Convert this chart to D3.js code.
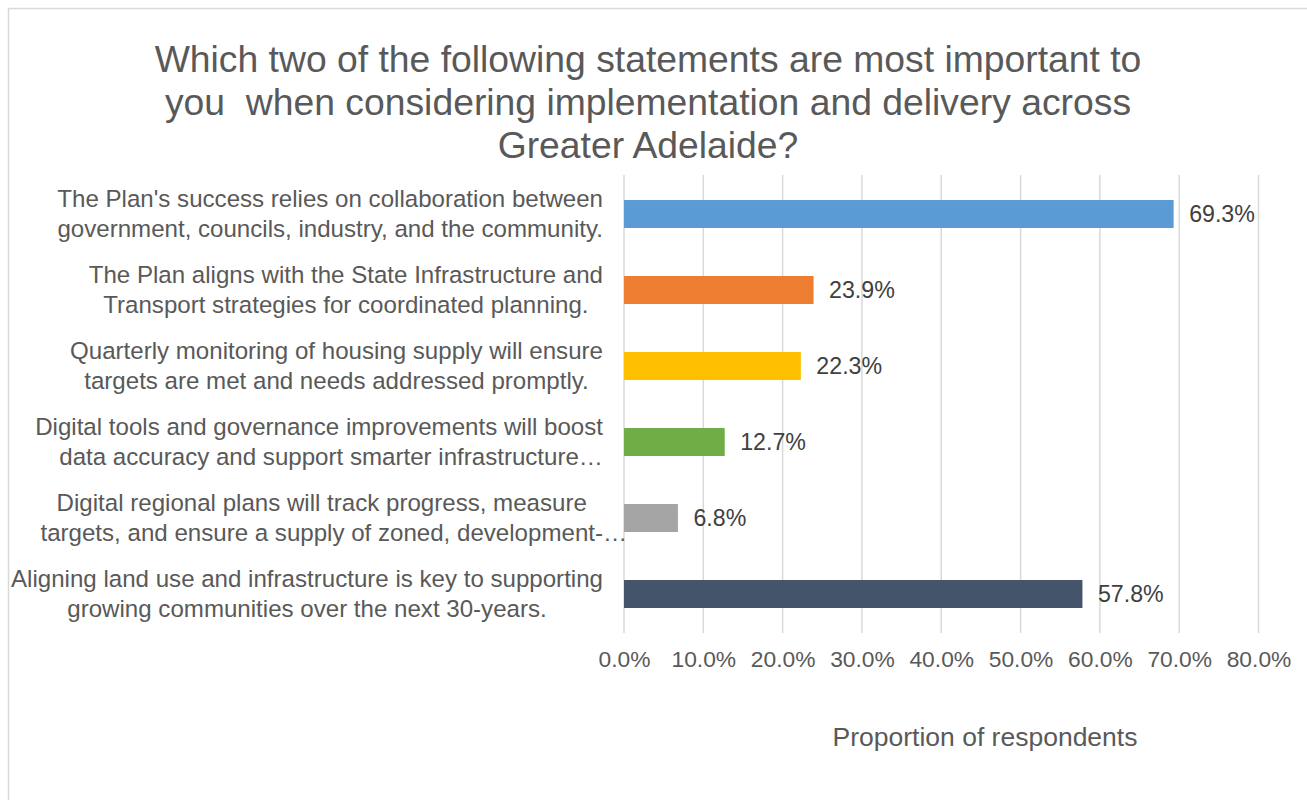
<!DOCTYPE html>
<html>
<head>
<meta charset="utf-8">
<script src="https://cdn.jsdelivr.net/npm/d3@7"></script>
<style>
  html, body { margin: 0; padding: 0; background: #ffffff; }
  svg { display: block; font-family: "Liberation Sans", Arial, sans-serif; }
  text { white-space: pre; }
</style>
</head>
<body>
<svg id="chart" width="1307" height="800"></svg>
<script>
// Survey responses: share of respondents choosing each statement
const titleLines = [
  "Which two of the following statements are most important to",
  "you  when considering implementation and delivery across",
  "Greater Adelaide?"
];
const categories = [
  ["The Plan's success relies on collaboration between", "government, councils, industry, and the community."],
  ["The Plan aligns with the State Infrastructure and", "Transport strategies for coordinated planning."],
  ["Quarterly monitoring of housing supply will ensure", "targets are met and needs addressed promptly."],
  ["Digital tools and governance improvements will boost", "data accuracy and support smarter infrastructure\u2026"],
  ["Digital regional plans will track progress, measure", "targets, and ensure a supply of zoned, development-\u2026"],
  ["Aligning land use and infrastructure is key to supporting", "growing communities over the next 30-years."]
];
const values = [69.3, 23.9, 22.3, 12.7, 6.8, 57.8];
const barColors = ["#5B9BD5", "#ED7D31", "#FFC000", "#70AD47", "#A5A5A5", "#44546A"];
const tickValues = [0, 10, 20, 30, 40, 50, 60, 70, 80];
const axisTitle = "Proportion of respondents";

const textColor = "#595959";
const gridColor = "#D9D9D9";

const svg = d3.select("#chart");

// outer chart frame
svg.append("rect")
  .attr("x", 8.5).attr("y", 8.5)
  .attr("width", 1320).attr("height", 820)
  .attr("fill", "#ffffff")
  .attr("stroke", "#D9D9D9")
  .attr("stroke-width", 1.5);

// title
svg.append("g").selectAll("text")
  .data(titleLines)
  .join("text")
  .attr("x", 648)
  .attr("y", (d, i) => 72 + i * 43)
  .attr("text-anchor", "middle")
  .attr("fill", textColor)
  .style("font-size", "37.3px")
  .text(d => d);

// plot area
const plot = { left: 624, right: 1258.5, top: 176, bottom: 632 };

const x = d3.scaleLinear()
  .domain([0, 80])
  .range([plot.left, plot.right]);

const y = d3.scaleBand()
  .domain(d3.range(categories.length))
  .range([plot.top, plot.bottom])
  .paddingInner(0.632)
  .paddingOuter(0.316);

// vertical gridlines
svg.append("g").selectAll("line")
  .data(tickValues)
  .join("line")
  .attr("x1", d => x(d)).attr("x2", d => x(d))
  .attr("y1", 175).attr("y2", 633)
  .attr("stroke", gridColor)
  .attr("stroke-width", 1.5);

// value axis labels
const xAxis = d3.axisBottom(x)
  .tickValues(tickValues)
  .tickSize(0)
  .tickPadding(0)
  .tickFormat(d => d3.format(".1f")(d) + "%");

const axisG = svg.append("g")
  .attr("transform", "translate(0,651)")
  .call(xAxis);
axisG.select(".domain").remove();
axisG.selectAll("text")
  .attr("fill", textColor)
  .attr("dy", "0.71em")
  .style("font-size", "22.8px")
  .style("font-family", "'Liberation Sans', Arial, sans-serif");

// bars
svg.append("g").selectAll("rect")
  .data(values)
  .join("rect")
  .attr("x", x(0))
  .attr("y", (d, i) => y(i))
  .attr("width", d => x(d) - x(0))
  .attr("height", y.bandwidth())
  .attr("fill", (d, i) => barColors[i]);

// data labels
svg.append("g").selectAll("text")
  .data(values)
  .join("text")
  .attr("x", d => x(d) + 15.5)
  .attr("y", (d, i) => y(i) + y.bandwidth() / 2)
  .attr("dy", "0.35em")
  .attr("fill", "#404040")
  .style("font-size", "23.2px")
  .text(d => d3.format(".1f")(d) + "%");

// category labels: each two-line block sits right against the axis,
// lines centred within the block; a trailing ellipsis hangs past the centre line
const labelRight = 603;
const labelG = svg.append("g").style("font-size", "24.1px").attr("fill", textColor);
categories.forEach((lines, i) => {
  const cy = y(i) + y.bandwidth() / 2;
  const measure = s => {
    const t = labelG.append("text").text(s);
    const w = t.node().getComputedTextLength();
    t.remove();
    return w;
  };
  const bare = lines.map(s => s.replace(/\u2026$/, ""));
  const widths = bare.map(measure);
  const blockW = d3.max(widths);
  const cx = labelRight - blockW / 2;
  lines.forEach((s, j) => {
    labelG.append("text")
      .attr("x", cx - widths[j] / 2)
      .attr("y", cy + (j - (lines.length - 1) / 2) * 30)
      .attr("dy", "0.35em")
      .text(s);
  });
});

// axis title
svg.append("text")
  .attr("x", 985)
  .attr("y", 746)
  .attr("text-anchor", "middle")
  .attr("fill", textColor)
  .style("font-size", "26.5px")
  .text(axisTitle);
</script>
</body>
</html>
